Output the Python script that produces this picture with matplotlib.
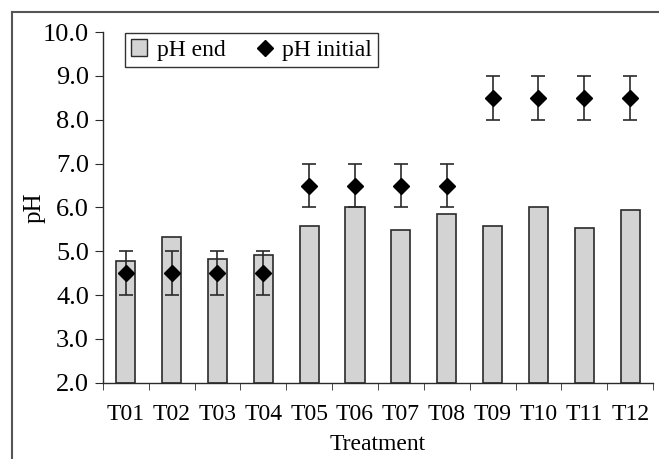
import numpy as np
import matplotlib.pyplot as plt
from matplotlib.lines import Line2D

plt.rcParams['font.family'] = ['Liberation Serif', 'DejaVu Serif']

treatments = ['T01', 'T02', 'T03', 'T04', 'T05', 'T06',
              'T07', 'T08', 'T09', 'T10', 'T11', 'T12']
ph_end = [4.77, 5.33, 4.82, 4.91, 5.58, 6.0, 5.48, 5.86, 5.58, 6.0, 5.53, 5.95]
ph_initial = [4.5, 4.5, 4.5, 4.5, 6.5, 6.5, 6.5, 6.5, 8.5, 8.5, 8.5, 8.5]
ph_err = [0.5] * 12

fig = plt.figure(figsize=(6.59, 4.59), dpi=100)
ax = fig.add_axes([0.156, 0.166, 0.835, 0.764])

x = np.arange(len(treatments))
ax.bar(x, np.array(ph_end) - 2.0, bottom=2.0, width=0.42, color='#d3d3d3',
       edgecolor='#2a2a2a', linewidth=1.2, label='pH end', zorder=2)
ax.errorbar(x, ph_initial, yerr=ph_err, fmt='D', color='black', ms=8,
            ecolor='#2a2a2a', elinewidth=1.2, capsize=5, capthick=1.2,
            label='pH initial', zorder=3)

ax.set_xlim(-0.5, 11.5)
ax.set_ylim(2.0, 10.0)
ax.set_yticks(np.arange(2, 10.01, 1.0))
ax.set_yticklabels([f'{v:.1f}' for v in np.arange(2, 10.01, 1.0)])
ax.set_xticks(x)
ax.set_xticklabels(treatments)
ax.set_xticks(np.arange(-0.5, 11.6, 1.0), minor=True)
ax.tick_params(axis='x', which='major', length=0, pad=15, labelsize=17)
ax.tick_params(axis='x', which='minor', length=5, direction='out', color='#2a2a2a')
ax.tick_params(axis='y', length=6, direction='out', labelsize=19, pad=4,
               color='#2a2a2a')

for s in ['top', 'right']:
    ax.spines[s].set_visible(False)
for s in ['left', 'bottom']:
    ax.spines[s].set_color('#2a2a2a')
    ax.spines[s].set_linewidth(1.0)

ax.set_xlabel('Treatment', fontsize=17, labelpad=7)
ax.set_ylabel('pH', fontsize=18, labelpad=-2)

handles = [plt.Rectangle((0, 0), 1, 1, facecolor='#d3d3d3', edgecolor='#2a2a2a'),
           Line2D([], [], marker='D', color='black', ls='none', ms=8)]
leg = ax.legend(handles, ['pH end', 'pH initial'], ncol=2, loc='upper left',
                bbox_to_anchor=(0.019, 1.03), fontsize=17, frameon=True,
                fancybox=False, edgecolor='black', handlelength=0.7,
                handletextpad=0.4, columnspacing=1.3, borderpad=0.25)
leg.get_frame().set_linewidth(1.0)

# outer frame of the figure
fig.add_artist(Line2D([0.018, 0.018], [0.0, 0.974], color='#555555', lw=1.5))
fig.add_artist(Line2D([0.018, 1.0], [0.974, 0.974], color='#555555', lw=1.5))

fig.savefig('out.png', dpi=100)
